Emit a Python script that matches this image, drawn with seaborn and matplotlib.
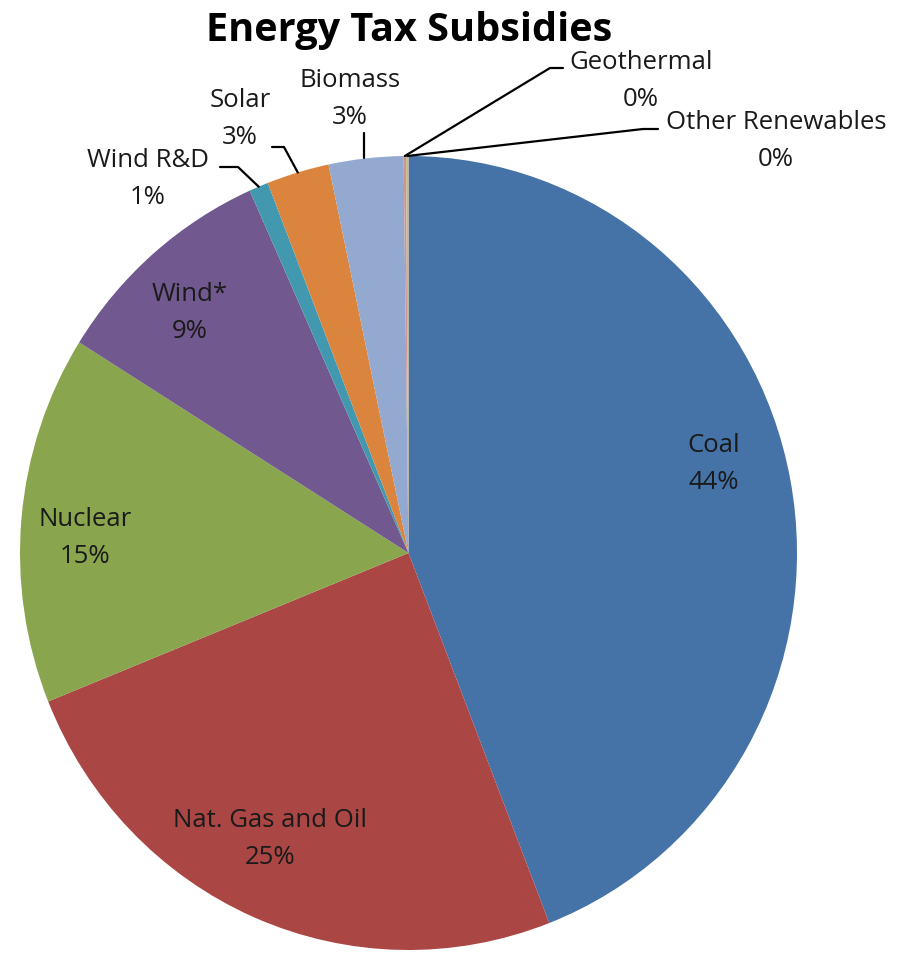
import numpy as np
import matplotlib
matplotlib.use("Agg")
import matplotlib.pyplot as plt
import seaborn as sns

categories = ["Coal", "Nat. Gas and Oil", "Nuclear", "Wind*", "Wind R&D",
              "Solar", "Biomass", "Geothermal", "Other Renewables"]
shares = [44.1, 24.8, 15.0, 9.4, 0.8, 2.6, 3.1, 0.1, 0.1]
colors = ["#4572A7", "#AA4643", "#89A54E", "#71588F", "#4198AF",
          "#DB843D", "#93A9CF", "#D19392", "#C8B98A"]

sns.set_theme(style="white")
plt.rcParams['font.family'] = ['Open Sans', 'DejaVu Sans']

W, H = 905, 955
fig = plt.figure(figsize=(W / 100, H / 100), dpi=100)

# pie axes placement in pixels (left, top, right, bottom)
pl, pt, pr, pb = 20, 156, 797, 950
ax = fig.add_axes([pl / W, (H - pb) / H, (pr - pl) / W, (pb - pt) / H])
pal = sns.color_palette(colors)
wedges, _ = ax.pie(shares, colors=pal, startangle=90, counterclock=False,
                   wedgeprops=dict(linewidth=0), radius=1.0)
ax.set_xlim(-1, 1)
ax.set_ylim(-1, 1)
ax.set_aspect('auto')
ax.axis('off')

def fx(px):
    return px / W

def fy(py):
    return (H - py) / H

def rim_point(w):
    ang = np.deg2rad((w.theta1 + w.theta2) / 2)
    xd, yd = np.cos(ang), np.sin(ang)
    disp = ax.transData.transform((xd, yd))
    return fig.transFigure.inverted().transform(disp)

total = sum(shares)
pct = [f"{round(v / total * 100):d}%" for v in shares]

fs = 18.5
ls = 1.6
inside = {0: (714, 464), 1: (270, 839), 2: (85, 538), 3: (190, 313)}
for i, (px, py) in inside.items():
    fig.text(fx(px), fy(py), f"{categories[i]}\n{pct[i]}", ha='center', va='center',
             fontsize=fs, color='#1a1a1a', linespacing=ls)

outside = {4: (148, 179), 5: (240, 119), 6: (350, 99), 7: (641, 81), 8: (776, 141)}
for i, (px, py) in outside.items():
    fig.text(fx(px), fy(py), f"{categories[i]}\n{pct[i]}", ha='center', va='center',
             fontsize=fs, color='#1a1a1a', linespacing=ls)

# leader line elbows in pixel coordinates
elbows = {4: [(220, 167), (238, 167)],
          5: [(272, 147), (284, 147)],
          6: [(364, 133)],
          7: [(563, 68), (550, 68)],
          8: [(658, 129), (643, 129)]}
for i, pts in elbows.items():
    xs = [fx(p[0]) for p in pts]
    ys = [fy(p[1]) for p in pts]
    rx, ry = rim_point(wedges[i])
    if i == 6:
        xs.append(xs[0]); ys.append(ry)
    else:
        xs.append(rx); ys.append(ry)
    fig.add_artist(plt.Line2D(xs, ys, transform=fig.transFigure,
                              color='black', lw=1.6))

fig.text(fx(409), fy(31), "Energy Tax Subsidies", ha='center', va='center',
         fontsize=28.5, fontweight='bold', color='black')

fig.savefig("out.png", dpi=100, facecolor='white')
